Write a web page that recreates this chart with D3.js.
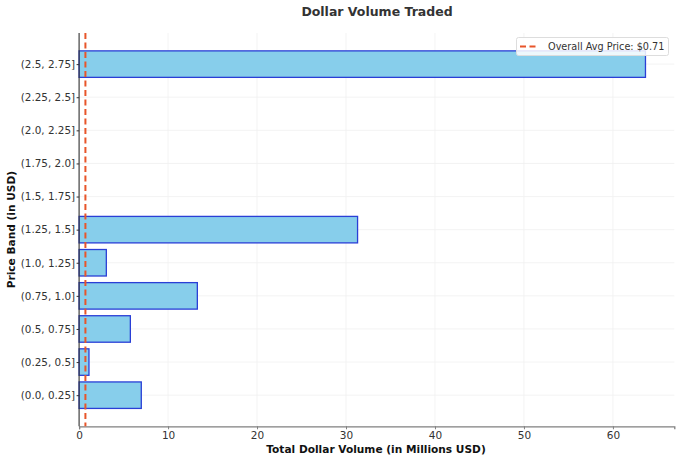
<!DOCTYPE html>
<html><head><meta charset="utf-8">
<script src="https://cdn.jsdelivr.net/npm/d3@7"></script>
<style>body{margin:0;background:#fff;}svg{display:block;font-family:"DejaVu Sans",sans-serif;}</style>
</head><body>
<svg id="c" width="680" height="461"></svg>
<script>
const bands = ["(0.0, 0.25]","(0.25, 0.5]","(0.5, 0.75]","(0.75, 1.0]","(1.0, 1.25]","(1.25, 1.5]","(1.5, 1.75]","(1.75, 2.0]","(2.0, 2.25]","(2.25, 2.5]","(2.5, 2.75]"];
const volumes = [6.99, 1.11, 5.76, 13.29, 3.06, 31.3, 0, 0, 0, 0, 63.66];
const avgPrice = 0.71;
const xTicks = [0, 10, 20, 30, 40, 50, 60];

const svg = d3.select("#c");
const L = 79.1, R = 674.3, T = 33, B = 426.3;
const x = d3.scaleLinear().domain([0, 66.9]).range([L, R]);
const y = d3.scaleLinear().domain([-0.94, 10.94]).range([B, T]);
const bh = y(0) - y(0.8);

// grid
svg.append("g").selectAll("line").data(xTicks).join("line")
  .attr("x1", d => x(d)).attr("x2", d => x(d)).attr("y1", T).attr("y2", B)
  .attr("stroke", "#f0f0f0").attr("stroke-width", 0.8);
svg.append("g").selectAll("line").data(bands).join("line")
  .attr("x1", L).attr("x2", R).attr("y1", (d, i) => y(i)).attr("y2", (d, i) => y(i))
  .attr("stroke", "#f0f0f0").attr("stroke-width", 0.8);

// bars
svg.append("g").selectAll("rect").data(volumes).join("rect")
  .attr("x", x(0)).attr("y", (d, i) => y(i) - bh / 2)
  .attr("width", d => x(d) - x(0)).attr("height", bh)
  .attr("fill", "#87ceeb")
  .attr("stroke", d => d > 0 ? "#2a3fd6" : "none").attr("stroke-width", 1.3);

// axes
const xAxis = d3.axisBottom(x).tickValues(xTicks).tickSize(3).tickPadding(2);
const gx = svg.append("g").attr("transform", `translate(0,${B})`).call(xAxis);
gx.select(".domain").attr("stroke", "#808080").attr("stroke-width", 1.3);
gx.selectAll(".tick line").attr("stroke", "#808080");
gx.selectAll("text").attr("font-size", 10.5).attr("fill", "#333").attr("font-family", "DejaVu Sans");

const yAxis = d3.axisLeft(y).tickValues(d3.range(bands.length)).tickFormat(i => bands[i]).tickSize(2.5).tickPadding(1.5);
const gy = svg.append("g").attr("transform", `translate(${L},0)`).call(yAxis);
gy.select(".domain").attr("d", `M0,${T}V${B}`).attr("stroke", "#333").attr("stroke-width", 1.1);
gy.selectAll(".tick line").attr("stroke", "#333");
gy.selectAll("text").attr("font-size", 10.4).attr("fill", "#333").attr("font-family", "DejaVu Sans");

// avg line
svg.append("line").attr("x1", x(avgPrice)).attr("x2", x(avgPrice)).attr("y1", T).attr("y2", B)
  .attr("stroke", "#e8552a").attr("stroke-width", 2).attr("stroke-dasharray", "6,3.5");

// titles
svg.append("text").attr("x", 377).attr("y", 16).attr("text-anchor", "middle")
  .attr("font-size", 12.5).attr("font-weight", "bold").attr("fill", "#333").text("Dollar Volume Traded");
svg.append("text").attr("x", 376).attr("y", 453).attr("text-anchor", "middle")
  .attr("font-size", 10.6).attr("font-weight", "bold").attr("fill", "#111").text("Total Dollar Volume (in Millions USD)");
svg.append("text").attr("transform", `translate(15,${(T + B) / 2}) rotate(-90)`).attr("text-anchor", "middle")
  .attr("font-size", 10.6).attr("font-weight", "bold").attr("fill", "#111").text("Price Band (in USD)");

// legend
const lg = svg.append("g");
lg.append("rect").attr("x", 516.5).attr("y", 37.5).attr("width", 152).attr("height", 18).attr("rx", 2)
  .attr("fill", "#fff").attr("fill-opacity", 0.85).attr("stroke", "#ddd");
lg.append("line").attr("x1", 520).attr("x2", 539).attr("y1", 46.5).attr("y2", 46.5)
  .attr("stroke", "#e8552a").attr("stroke-width", 2).attr("stroke-dasharray", "6,3.5");
lg.append("text").attr("x", 548).attr("y", 50.3).attr("font-size", 9.7).attr("fill", "#333")
  .text("Overall Avg Price: $" + avgPrice.toFixed(2));
</script>
</body></html>
